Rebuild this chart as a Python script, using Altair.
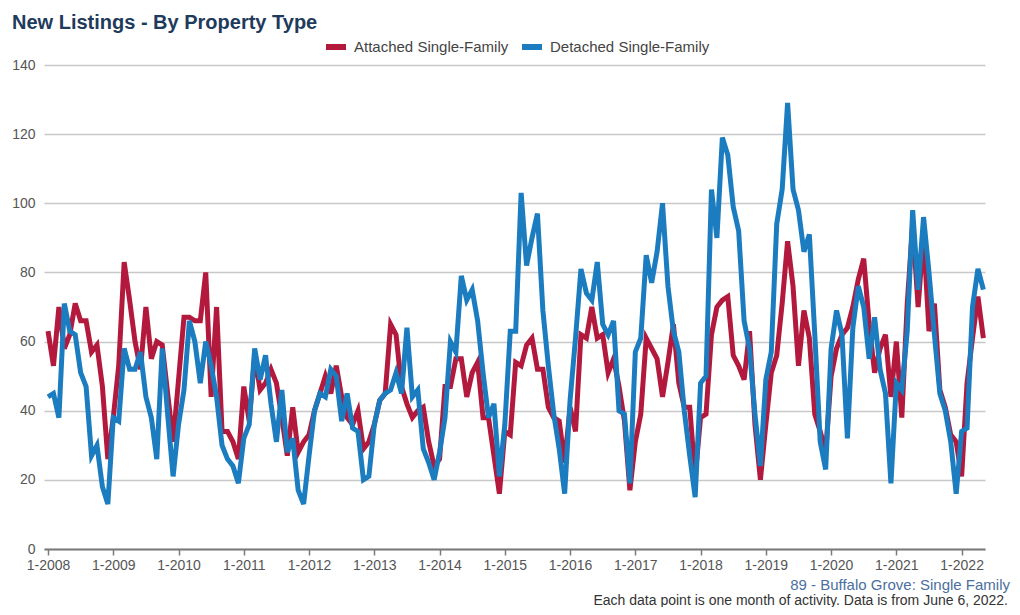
import altair as alt
import pandas as pd

title_text = "New Listings - By Property Type"
footer_1 = "89 - Buffalo Grove: Single Family"
footer_2 = "Each data point is one month of activity. Data is from June 6, 2022."
series_names = ["Attached Single-Family", "Detached Single-Family"]
series_colors = ["#B2193C", "#1C7CC0"]
tick_labels = ["1-2008", "1-2009", "1-2010", "1-2011", "1-2012", "1-2013", "1-2014",
               "1-2015", "1-2016", "1-2017", "1-2018", "1-2019", "1-2020", "1-2021", "1-2022"]

# Monthly values, Jan 2008 .. May 2022
attached = [
    63, 53, 70, 58, 62, 71, 66, 66, 57, 59, 47, 26,   # 2008
    38, 53, 83, 72, 60, 52, 70, 55, 60, 59, 45, 31,   # 2009
    49, 67, 67, 66, 66, 80, 44, 70, 34, 34, 31, 26,   # 2010
    47, 37, 56, 46, 48, 52, 48, 38, 27, 41, 28, 31,   # 2011
    33, 40, 45, 50, 45, 53, 44, 38, 36, 40, 29, 31,   # 2012
    36, 43, 45, 65, 62, 47, 42, 38, 40, 41, 31, 24,   # 2013
    26, 47, 47, 55, 55, 44, 51, 54, 38, 38, 27, 16,   # 2014
    34, 33, 54, 53, 59, 61, 52, 52, 41, 38, 37, 25,   # 2015
    41, 34, 62, 61, 70, 61, 62, 51, 55, 47, 37, 17,   # 2016
    31, 39, 61, 58, 55, 44, 54, 65, 48, 41, 41, 21,   # 2017
    38, 39, 62, 70, 72, 73, 56, 53, 49, 63, 36, 20,   # 2018
    36, 51, 56, 71, 89, 76, 53, 69, 61, 39, 34, 28,   # 2019
    50, 58, 62, 64, 70, 78, 84, 65, 51, 58, 62, 44,   # 2020
    60, 38, 71, 94, 70, 91, 63, 71, 46, 41, 33, 31,   # 2021
    21, 48, 61, 73, 61,                               # 2022
]
detached = [
    44, 45, 38, 71, 63, 62, 51, 47, 27, 30, 18, 13,   # 2008
    38, 37, 58, 52, 52, 57, 44, 38, 26, 58, 39, 21,   # 2009
    36, 46, 66, 60, 48, 60, 53, 44, 30, 26, 24, 19,   # 2010
    32, 36, 58, 49, 56, 42, 31, 46, 28, 32, 17, 13,   # 2011
    27, 40, 45, 44, 52, 50, 37, 45, 35, 34, 20, 21,   # 2012
    36, 43, 45, 46, 51, 45, 64, 44, 46, 29, 25, 20,   # 2013
    28, 38, 60, 57, 79, 72, 75, 66, 51, 38, 42, 21,   # 2014
    36, 63, 63, 103, 82, 90, 97, 69, 53, 39, 29, 16,  # 2015
    43, 61, 81, 74, 72, 83, 65, 62, 66, 40, 39, 19,   # 2016
    57, 61, 85, 77, 86, 100, 76, 63, 57, 40, 27, 15,  # 2017
    48, 50, 104, 90, 119, 114, 99, 92, 66, 58, 39, 24,  # 2018
    49, 57, 94, 104, 129, 104, 98, 86, 91, 62, 31, 23,  # 2019
    58, 69, 62, 32, 64, 76, 70, 55, 67, 52, 45, 19,   # 2020
    48, 46, 63, 98, 75, 96, 80, 62, 45, 40, 31, 16,   # 2021
    34, 35, 70, 81, 75,                               # 2022
]

rows = []
for name, vals in zip(series_names, [attached, detached]):
    for i, v in enumerate(vals):
        rows.append({"idx": i, "value": v, "series": name})
df = pd.DataFrame(rows)

tick_idx = [12 * k for k in range(len(tick_labels))]
label_expr = "[" + ",".join("'%s'" % t for t in tick_labels) + "][round(datum.value/12)]"

FONT = "Liberation Sans"

lines = alt.Chart(df).mark_line(strokeWidth=5).encode(
    x=alt.X("idx:Q",
            scale=alt.Scale(domain=[-0.74, 172.3], nice=False, zero=False),
            axis=alt.Axis(values=tick_idx, labelExpr=label_expr, title=None, grid=False,
                          domainColor="#7a7a7a", domainWidth=2, tickColor="#7a7a7a",
                          tickSize=6, tickWidth=1.5, labelFontSize=14, labelColor="#555555",
                          labelPadding=3, labelFont=FONT)),
    y=alt.Y("value:Q",
            scale=alt.Scale(domain=[0, 140], nice=False),
            axis=alt.Axis(values=list(range(0, 141, 20)), grid=True, gridColor="#c8c8c8",
                          gridWidth=1.5, domain=False, ticks=False, labelPadding=9,
                          labelFontSize=14, labelColor="#555555", title=None, labelFont=FONT)),
    color=alt.Color("series:N",
                    scale=alt.Scale(domain=series_names, range=series_colors),
                    legend=alt.Legend(orient="none", legendX=279, legendY=-31,
                                      direction="horizontal", title=None,
                                      symbolType="stroke", symbolStrokeWidth=6,
                                      symbolSize=400, labelFontSize=15,
                                      labelColor="#444444", columnPadding=1,
                                      labelOffset=5, labelFont=FONT, padding=0)),
)

title = alt.Chart(pd.DataFrame({"t": [title_text]})).mark_text(
    align="left", baseline="middle", fontSize=20, fontWeight="bold",
    color="#1F3B5C", font=FONT
).encode(text="t:N", x=alt.value(-32), y=alt.value(-42))

foot1 = alt.Chart(pd.DataFrame({"t": [footer_1]})).mark_text(
    align="right", baseline="middle", fontSize=15, color="#4A6FA0", font=FONT
).encode(text="t:N", x=alt.value(966), y=alt.value(36 + 484))

foot2 = alt.Chart(pd.DataFrame({"t": [footer_2]})).mark_text(
    align="right", baseline="middle", fontSize=14, color="#333333", font=FONT
).encode(text="t:N", x=alt.value(964), y=alt.value(52 + 484))

chart = alt.layer(lines, title, foot1, foot2).properties(
    width=941, height=484,
    autosize=alt.AutoSizeParams(type="none"),
    padding={"left": 36, "top": 57, "right": 27, "bottom": 58},
).configure_view(stroke=None)

chart.save("out.html", embed_options={"renderer": "svg", "actions": False})
